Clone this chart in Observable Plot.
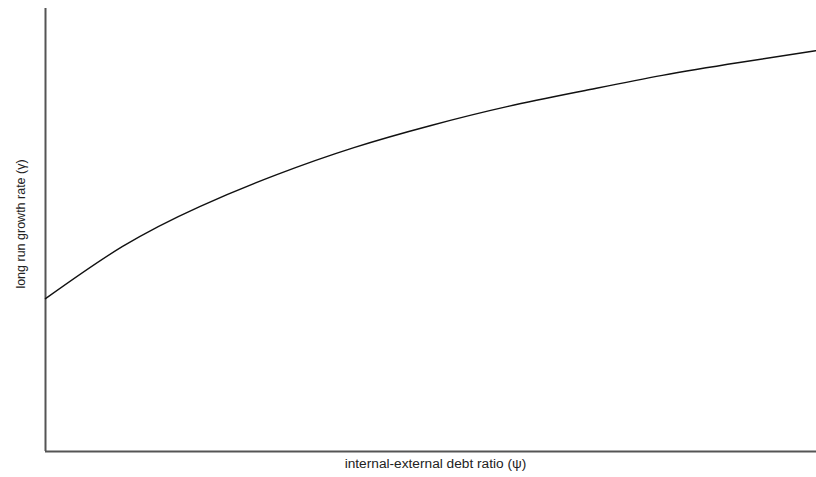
<!DOCTYPE html>
<html>
<head>
<meta charset="utf-8">
<script src="https://cdn.jsdelivr.net/npm/d3@7"></script>
<script src="https://cdn.jsdelivr.net/npm/@observablehq/plot@0.6"></script>
<style>
  html, body { margin: 0; padding: 0; background: #fff; }
  #chart svg { display: block; }
</style>
</head>
<body>
<div id="chart"></div>
<script>
// Debt ratio (psi) values, arbitrary units
const psi = [0, 1, 2, 3, 4, 5, 6, 7, 8, 9, 10];
// Long run growth rate (gamma), arbitrary units
const gamma = [3.45, 4.63, 5.53, 6.25, 6.86, 7.36, 7.79, 8.15, 8.49, 8.78, 9.05];
const xLabel = "internal-external debt ratio (ψ)";
const yLabel = "long run growth rate (γ)";

const data = psi.map((p, i) => ({psi: p, gamma: gamma[i]}));

const chart = Plot.plot({
  width: 816,
  height: 477,
  marginLeft: 45,
  marginRight: 0,
  marginTop: 8,
  marginBottom: 26,
  style: {fontFamily: "Liberation Sans, Arial, sans-serif", fontSize: "12px", color: "#222", background: "#fff"},
  x: {domain: [0, 10], axis: null},
  y: {domain: [0, 10], axis: null},
  marks: [
    Plot.ruleX([0], {stroke: "#555", strokeWidth: 2}),
    Plot.ruleY([0], {stroke: "#555", strokeWidth: 2}),
    Plot.line(data, {x: "psi", y: "gamma", stroke: "#111", strokeWidth: 1.4, curve: "natural"}),
    Plot.text([xLabel], {frameAnchor: "bottom", dy: 16, dx: 4.5, fontSize: 13.7, fill: "#222", textAnchor: "middle"}),
    Plot.text([yLabel], {frameAnchor: "left", rotate: -90, dx: -25, dy: -6, fontSize: 12.5, fill: "#222", textAnchor: "middle"})
  ]
});
document.getElementById("chart").appendChild(chart);
</script>
</body>
</html>
